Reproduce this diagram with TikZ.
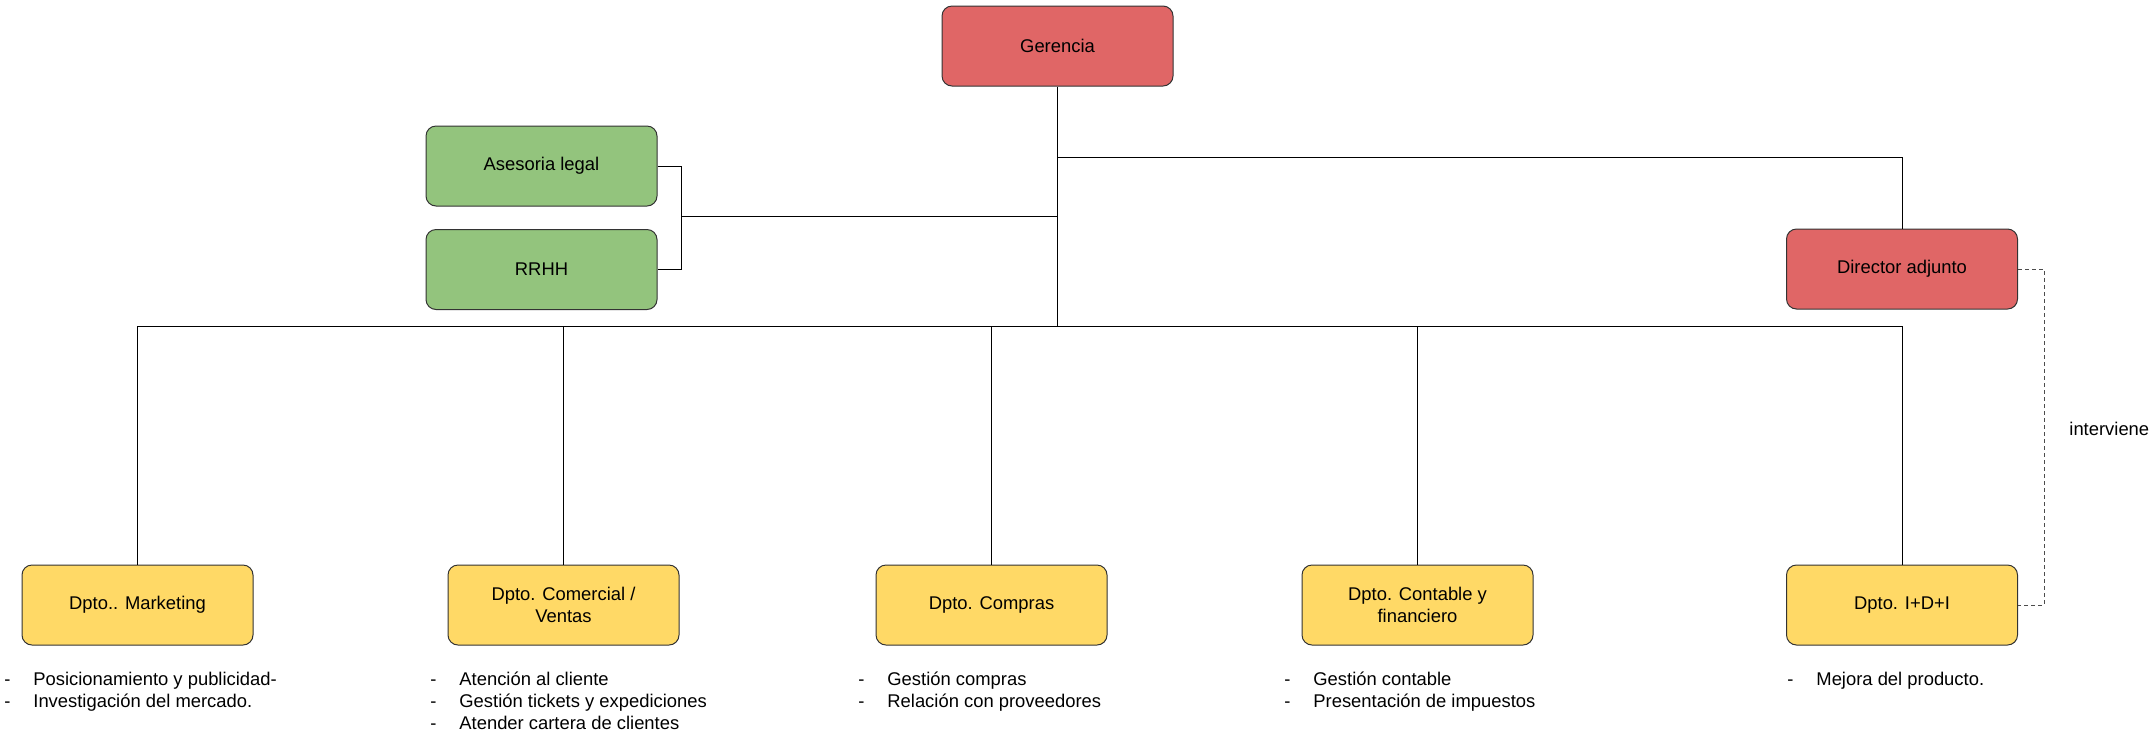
\documentclass[tikz,border=0pt]{standalone}
\usepackage{fontspec}
\setmainfont{Liberation Sans}
\definecolor{rojo}{HTML}{E06666}
\definecolor{verde}{HTML}{93C47D}
\definecolor{amarillo}{HTML}{FFD966}
\tikzset{
	caja/.style={draw=black!80, line width=0.5pt, rounded corners=5pt, minimum width=115.5pt, minimum height=40pt, align=center, font=\fontsize{9.2}{11}\selectfont},
	jefe/.style={caja, fill=rojo},
	apoyo/.style={caja, fill=verde},
	dpto/.style={caja, fill=amarillo},
	lista/.style={anchor=north west, inner sep=0pt, align=left, font=\fontsize{9.2}{11}\selectfont},
	linea/.style={line width=0.5pt}
}
\newcommand{\tarea}[1]{\makebox[14.5pt][l]{-}\strut #1}
\begin{document}
\begin{tikzpicture}[x=0.5pt, y=-0.5pt]
	\useasboundingbox (0,0) rectangle (2156,741);
	\node[jefe] (gerencia) at (1057.5,46) {Gerencia};
	\node[apoyo] (asesoria) at (541.5,166) {Asesoria legal};
	\node[apoyo] (rrhh) at (541.5,269.5) {RRHH};
	\node[jefe] (director) at (1902,269) {Director adjunto};
	\node[dpto] (marketing) at (137.5,605) {Dpto.. Marketing};
	\node[dpto] (comercial) at (563.5,605) {Dpto. Comercial /\\Ventas};
	\node[dpto] (compras) at (991.5,605) {Dpto. Compras};
	\node[dpto] (contable) at (1417.5,605) {Dpto. Contable y\\financiero};
	\node[dpto] (idi) at (1902,605) {Dpto. I+D+I};
	\coordinate (bus) at (1057.5,326);
	\coordinate (ramal) at (1057.5,157);
	\coordinate (brk) at (681,216);
	\draw[linea] (gerencia.south) -- (bus);
	\draw[linea] (ramal) -| (director.north);
	\draw[linea] (asesoria.east) -| (brk) |- (rrhh.east);
	\draw[linea] (brk) -- (brk -| gerencia.south);
	\draw[linea] (marketing.north |- bus) -- (idi.north |- bus);
	\foreach \d in {marketing, comercial, compras, contable, idi}
		\draw[linea] (\d.north) -- (\d.north |- bus);
	\draw[dashed, dash pattern=on 2pt off 1.5pt, black!70] (director.east) -- ++(26,0) |- (idi.east);
	\node[anchor=west, inner sep=0pt, font=\fontsize{9.2}{11}\selectfont] (interviene) at (2069,429) {interviene};
	\node[lista] (lmarketing) at (4,670) {\tarea{Posicionamiento y publicidad-}\\\tarea{Investigación del mercado.}};
	\node[lista] (lcomercial) at (430,670) {\tarea{Atención al cliente}\\\tarea{Gestión tickets y expediciones}\\\tarea{Atender cartera de clientes}};
	\node[lista] (lcompras) at (858,670) {\tarea{Gestión compras}\\\tarea{Relación con proveedores}};
	\node[lista] (lcontable) at (1284,670) {\tarea{Gestión contable}\\\tarea{Presentación de impuestos}};
	\node[lista] (lidi) at (1787,670) {\tarea{Mejora del producto.}};
\end{tikzpicture}
\end{document}
